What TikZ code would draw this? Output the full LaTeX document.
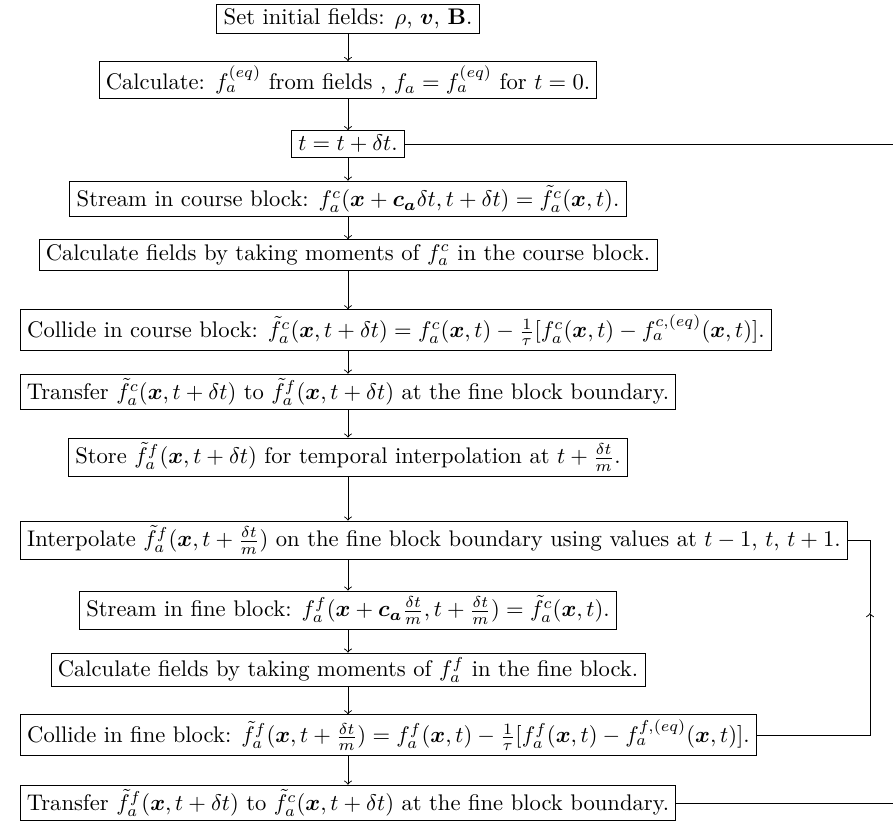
\documentclass[tikz,border=0pt]{standalone}
\usepackage{amsmath}
\usepackage{amssymb}

\begin{document}
\begin{tikzpicture}[
            x=0.4425pt,
            y=-0.4425pt,
            stage/.style={
                draw,
                rectangle,
                inner xsep=3pt,
                inner ysep=2pt,
                line width=0.4pt
            }
        ]

            \useasboundingbox (0,0) rectangle (893,829);
            \coordinate (edge) at (893,0);
            \coordinate (loop) at (870,613);

            \node[stage] (init) at (348,19)
                {Set initial fields: \(\rho\), \(\boldsymbol{v}\), \(\mathbf{B}\).};
            \node[stage] (calceq) at (348,80)
                {Calculate: \(f_a^{(eq)}\) from fields , \(f_a = f_a^{(eq)}\) for \(t = 0\).};
            \node[stage] (tstep) at (348,144)
                {\(t = t + \delta t\).};
            \node[stage] (streamc) at (348,199)
                {Stream in course block: \(f_a^c(\boldsymbol{x} + \boldsymbol{c_a}\delta t, t + \delta t) = \tilde{f}_a^c(\boldsymbol{x}, t)\).};
            \node[stage] (momc) at (348,255)
                {Calculate fields by taking moments of \(f_a^c\) in the course block.};
            \node[stage, anchor=west] (collc) at (20,330)
                {Collide in course block: \(\tilde{f}_a^c(\boldsymbol{x}, t + \delta t) = f_a^c(\boldsymbol{x}, t) - \frac{1}{\tau}[f_a^c(\boldsymbol{x}, t) - f_a^{c,(eq)}(\boldsymbol{x}, t)]\).};
            \node[stage] (transcf) at (348,392)
                {Transfer \(\tilde{f}_a^c(\boldsymbol{x}, t + \delta t)\) to \(\tilde{f}_a^f(\boldsymbol{x}, t + \delta t)\) at the fine block boundary.};
            \node[stage] (store) at (348,457)
                {Store \(\tilde{f}_a^f(\boldsymbol{x}, t + \delta t)\) for temporal interpolation at \(t + \frac{\delta t}{m}\).};
            \node[stage, anchor=west] (interp) at (20,540)
                {Interpolate \(\tilde{f}_a^f(\boldsymbol{x}, t + \frac{\delta t}{m})\) on the fine block boundary using values at \(t - 1\), \(t\), \(t + 1\).};
            \node[stage] (streamf) at (348,610)
                {Stream in fine block: \(f_a^f(\boldsymbol{x} + \boldsymbol{c_a}\frac{\delta t}{m}, t + \frac{\delta t}{m}) = \tilde{f}_a^c(\boldsymbol{x}, t)\).};
            \node[stage] (momf) at (348,670)
                {Calculate fields by taking moments of \(f_a^f\) in the fine block.};
            \node[stage, anchor=west] (collf) at (20,735)
                {Collide in fine block: \(\tilde{f}_a^f(\boldsymbol{x}, t + \frac{\delta t}{m}) = f_a^f(\boldsymbol{x}, t) - \frac{1}{\tau}[f_a^f(\boldsymbol{x}, t) - f_a^{f,(eq)}(\boldsymbol{x}, t)]\).};
            \node[stage] (transfc) at (348,803)
                {Transfer \(\tilde{f}_a^f(\boldsymbol{x}, t + \delta t)\) to \(\tilde{f}_a^c(\boldsymbol{x}, t + \delta t)\) at the fine block boundary.};

            \draw[->] (init) -- (calceq);
            \draw[->] (calceq) -- (tstep);
            \draw[->] (tstep) -- (streamc);
            \draw[->] (streamc) -- (momc);
            \draw[->] (momc.south) -- (momc.south |- collc.north);
            \draw[->] (transcf.north |- collc.south) -- (transcf);
            \draw[->] (transcf) -- (store);
            \draw[->] (store.south) -- (store.south |- interp.north);
            \draw[->] (streamf.north |- interp.south) -- (streamf);
            \draw[->] (streamf) -- (momf);
            \draw[->] (momf.south) -- (momf.south |- collf.north);
            \draw[->] (transfc.north |- collf.south) -- (transfc);

            % time loop and sub-step loop
            \draw (tstep.east) -- (tstep.east -| edge);
            \draw (transfc.east) -- (transfc.east -| edge);
            \draw[->] (collf.east) -| (loop);
            \draw (loop) |- (interp.east);

        \end{tikzpicture}
\end{document}
